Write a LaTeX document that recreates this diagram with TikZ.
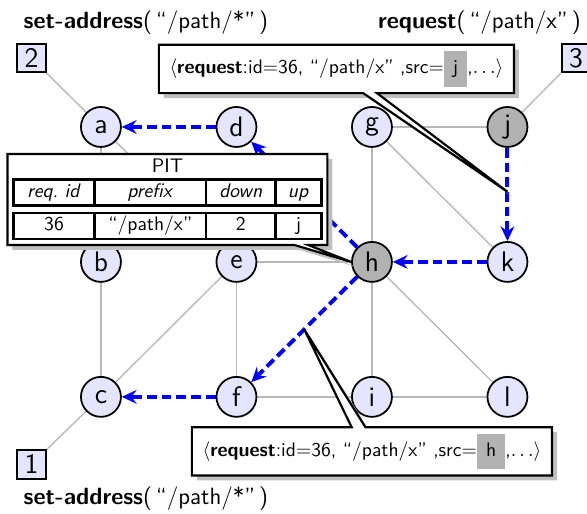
\documentclass[tikz,border=0pt]{standalone}
\usepackage{array}
\usetikzlibrary{arrows.meta,shapes.callouts,shadows,backgrounds,calc}
\newcolumntype{C}[1]{>{\centering\arraybackslash}p{#1}}
\colorlet{hl}{black!30}
\tikzset{
  vertex/.style={circle,draw,line width=0.9pt,fill=blue!10,minimum size=20.4pt,inner sep=0pt,font=\sffamily\Large},
  marked/.style={vertex,fill=hl},
  port/.style={draw,line width=0.9pt,fill=blue!10,minimum size=14.6pt,inner sep=1.2pt,font=\sffamily\Large},
  link/.style={draw=black!28,line width=0.7pt},
  flow/.style={draw=blue,line width=2pt,dash pattern=on 5pt off 2.5pt,-{Stealth[length=7.5pt,width=7pt,inset=2.5pt]}},
  msg/.style={rectangle callout,draw,line width=1.1pt,fill=white,callout pointer width=7pt,inner xsep=5.5pt,
    drop shadow={fill=black!25,opacity=1,shadow xshift=2.5pt,shadow yshift=-2.5pt}},
  call/.style={anchor=base,font=\sffamily\large}
}

\begin{document}
\begin{tikzpicture}[x=2.43cm,y=2.42cm,font=\sffamily]
  \useasboundingbox (-0.745,-0.867) rectangle (3.587,2.941);

  % routers
  \foreach \n/\x/\y in {a/0/2,d/1/2,g/2/2,b/0/1,e/1/1,c/0/0,f/1/0,i/2/0,l/3/0,k/3/1}{
    \node[vertex] (\n) at (\x,\y) {\n};
  }
  \node[marked] (j) at (3,2) {j};
  \node[marked] (h) at (2,1) {h};

  % hosts
  \node[port] (p2) at (-0.513,2.511) {2};
  \node[port] (p3) at (3.506,2.511) {3};
  \node[port] (p1) at (-0.513,-0.5) {1};

  \node[call] (sa2) at (0.332,2.733) {\textbf{set-address}(\,``/path/*''\,)};
  \node[call] (rq3) at (2.793,2.733) {\textbf{request}(\,``/path/x''\,)};
  \node[call] (sa1) at (0.332,-0.8) {\textbf{set-address}(\,``/path/*''\,)};

  \begin{scope}[on background layer]
    \foreach \u/\v in {p2/a,a/b,a/e,p3/j,g/j,g/h,g/k,e/h,h/i,h/l,b/c,c/e,e/f,f/i,i/l,p1/c}{
      \draw[link] (\u) -- (\v);
    }
    % path of the request
    \foreach \u/\v in {d/a,h/d,j/k,k/h,h/f,f/c}{
      \draw[flow] (\u) -- (\v);
    }
  \end{scope}

  % messages
  \node[msg,callout absolute pointer={($(j)!0.48!(k)$)}] (m1) at (1.738,2.43)
    {$\langle$\textbf{request}:id$=$36, ``/path/x'' ,src$=$\colorbox{hl}{\strut\,j\,},$\ldots\rangle$};
  \node[msg,callout absolute pointer={($(h)!0.5!(f)$)}] (m2) at (2.0,-0.404)
    {$\langle$\textbf{request}:id$=$36, ``/path/x'' ,src$=$\colorbox{hl}{\strut\,h\,},$\ldots\rangle$};

  \node[msg,callout absolute pointer={(h.west)},align=center,inner sep=2.4pt] (pit) at (0.491,1.463)
    {PIT\\[2pt]
     \setlength{\arrayrulewidth}{1.3pt}\setlength{\tabcolsep}{3pt}\setlength{\doublerulesep}{2.5pt}%
     \begin{tabular}{|C{34pt}|C{49.7pt}|C{28pt}|C{16.2pt}|}\hline
       \textit{req.\ id} & \textit{prefix} & \textit{down} & \textit{up}\\\hline\hline
       36 & ``/path/x'' & 2 & j\\\hline
     \end{tabular}};
\end{tikzpicture}
\end{document}
